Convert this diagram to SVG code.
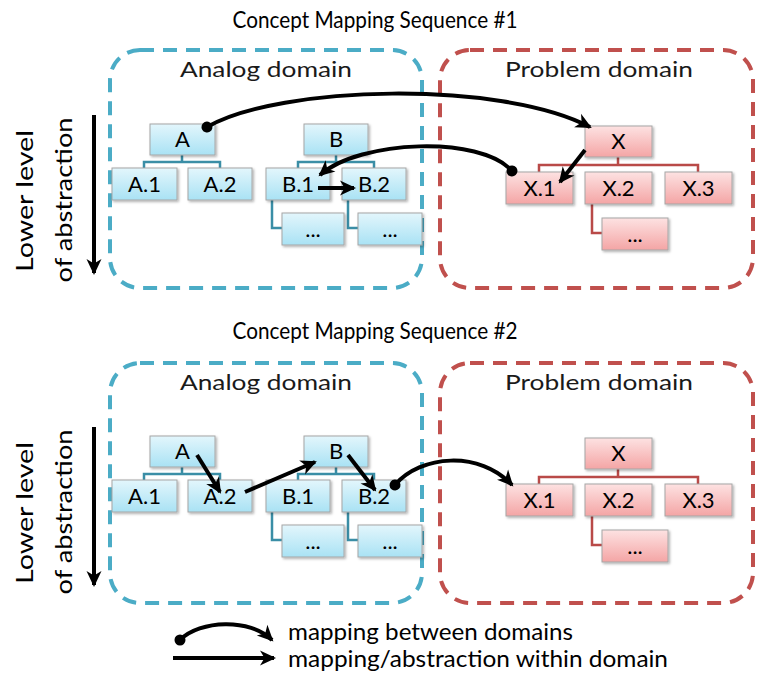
<svg xmlns="http://www.w3.org/2000/svg" width="757" height="683" viewBox="0 0 757 683">
  <style>
    text { font-family: Lato, "Open Sans", "Liberation Sans", sans-serif; fill: #000; }
    .title { font-size: 24px; text-anchor: middle; }
    .dlabel { font-size: 22px; text-anchor: middle; fill: #1a1a1a; }
    .nlabel { font-size: 22px; text-anchor: middle; }
    .side { font-size: 24px; text-anchor: middle; }
    .legend { font-size: 24px; }
    .dom-a { fill: none; stroke: #4bacc6; stroke-width: 4; stroke-dasharray: 14 9; }
    .dom-p { fill: none; stroke: #c0504d; stroke-width: 4; stroke-dasharray: 14 9; }
    .na { fill: url(#gBlue); stroke: #a6a6a6; stroke-width: 1; filter: url(#shadow); }
    .np { fill: url(#gRed); stroke: #a6a6a6; stroke-width: 1; filter: url(#shadow); }
    .ta { fill: none; stroke: #3a8ea6; stroke-width: 2.5; }
    .tp { fill: none; stroke: #b94a48; stroke-width: 2.5; }
    .between { fill: none; stroke: #000; stroke-width: 4; marker-start: url(#dot); marker-end: url(#head); }
    .within { fill: none; stroke: #000; stroke-width: 4; marker-end: url(#head); }
  </style>
  <defs>
    <linearGradient id="gBlue" x1="0" y1="0" x2="0" y2="1">
      <stop offset="0" stop-color="#e3f6fc"/>
      <stop offset="1" stop-color="#a9e2f4"/>
    </linearGradient>
    <linearGradient id="gRed" x1="0" y1="0" x2="0" y2="1">
      <stop offset="0" stop-color="#fde2e2"/>
      <stop offset="1" stop-color="#f4a5a5"/>
    </linearGradient>
    <filter id="shadow" x="-10%" y="-10%" width="130%" height="140%">
      <feDropShadow dx="1.5" dy="1.5" stdDeviation="1" flood-color="#000" flood-opacity="0.3"/>
    </filter>
    <marker id="head" markerUnits="userSpaceOnUse" markerWidth="18" markerHeight="18" viewBox="0 0 18 18" refX="15" refY="9" orient="auto">
      <path d="M1,1.5 L17,9 L1,16.5 L5.5,9 Z" fill="#000"/>
    </marker>
    <marker id="dot" markerUnits="userSpaceOnUse" markerWidth="12" markerHeight="12" viewBox="0 0 12 12" refX="6" refY="6" orient="auto">
      <circle cx="6" cy="6" r="5.5" fill="#000"/>
    </marker>
  </defs>

  <!-- Titles -->
  <text class="title" x="375" y="28" textLength="285" lengthAdjust="spacingAndGlyphs">Concept Mapping Sequence #1</text>
  <text class="title" x="375" y="339" textLength="285" lengthAdjust="spacingAndGlyphs">Concept Mapping Sequence #2</text>

  <!-- Abstraction axis, sequence 1 and 2 -->
  <g id="axis1">
    <text class="side" transform="translate(33,201) rotate(-90)" textLength="142" lengthAdjust="spacingAndGlyphs">Lower level</text>
    <text class="side" transform="translate(72,200) rotate(-90)" textLength="165" lengthAdjust="spacingAndGlyphs">of abstraction</text>
    <path class="within" d="M94,115 L94,273"/>
  </g>
  <g id="axis2">
    <text class="side" transform="translate(33,513) rotate(-90)" textLength="142" lengthAdjust="spacingAndGlyphs">Lower level</text>
    <text class="side" transform="translate(72,512) rotate(-90)" textLength="165" lengthAdjust="spacingAndGlyphs">of abstraction</text>
    <path class="within" d="M94,427 L94,585"/>
  </g>

  <!-- ===== Sequence 1 ===== -->
  <g id="analog1">
    <rect class="dom-a" x="110" y="50" width="312" height="238" rx="30"/>
    <text class="dlabel" x="266" y="77" textLength="172" lengthAdjust="spacingAndGlyphs">Analog domain</text>
  </g>
  <g id="problem1">
    <rect class="dom-p" x="440" y="50" width="313" height="238" rx="30"/>
    <text class="dlabel" x="599" y="77" textLength="188" lengthAdjust="spacingAndGlyphs">Problem domain</text>
  </g>

  <g id="tree1">
    <path class="ta" d="M182,155 V162 M144,168 V162 H220 V168"/>
    <path class="ta" d="M336,155 V162 M298,168 V162 H374 V168"/>
    <path class="ta" d="M272,200 V228 H282 M348,200 V228 H358"/>
    <path class="tp" d="M618,157 V165 M539,172 V165 H698 V172"/>
    <path class="tp" d="M592,204 V233 H602"/>
  </g>

  <g id="s1-A"><rect class="na" x="150" y="124" width="65" height="31"/><text class="nlabel" x="182.5" y="147">A</text></g>
  <g id="s1-A1"><rect class="na" x="112" y="168" width="65" height="32"/><text class="nlabel" x="144.5" y="192">A.1</text></g>
  <g id="s1-A2"><rect class="na" x="188" y="168" width="64" height="32"/><text class="nlabel" x="220" y="192">A.2</text></g>
  <g id="s1-B"><rect class="na" x="304" y="124" width="64" height="31"/><text class="nlabel" x="336" y="147">B</text></g>
  <g id="s1-B1"><rect class="na" x="266" y="168" width="64" height="32"/><text class="nlabel" x="298" y="192">B.1</text></g>
  <g id="s1-B2"><rect class="na" x="342" y="168" width="64" height="32"/><text class="nlabel" x="374" y="192">B.2</text></g>
  <g id="s1-B1c"><rect class="na" x="282" y="213" width="62" height="32"/><text class="nlabel" x="313" y="237">...</text></g>
  <g id="s1-B2c"><rect class="na" x="358" y="213" width="64" height="32"/><text class="nlabel" x="390" y="237">...</text></g>
  <g id="s1-X"><rect class="np" x="585" y="126" width="67" height="31"/><text class="nlabel" x="618.5" y="149">X</text></g>
  <g id="s1-X1"><rect class="np" x="506" y="172" width="67" height="32"/><text class="nlabel" x="539.5" y="196">X.1</text></g>
  <g id="s1-X2"><rect class="np" x="585" y="172" width="67" height="32"/><text class="nlabel" x="618.5" y="196">X.2</text></g>
  <g id="s1-X3"><rect class="np" x="665" y="172" width="67" height="32"/><text class="nlabel" x="698.5" y="196">X.3</text></g>
  <g id="s1-X2c"><rect class="np" x="602" y="218" width="66" height="32"/><text class="nlabel" x="635" y="242">...</text></g>

  <!-- ===== Sequence 2 ===== -->
  <g id="analog2">
    <rect class="dom-a" x="110" y="363" width="312" height="240" rx="30"/>
    <text class="dlabel" x="266" y="390" textLength="172" lengthAdjust="spacingAndGlyphs">Analog domain</text>
  </g>
  <g id="problem2">
    <rect class="dom-p" x="440" y="363" width="313" height="240" rx="30"/>
    <text class="dlabel" x="599" y="390" textLength="188" lengthAdjust="spacingAndGlyphs">Problem domain</text>
  </g>

  <g id="tree2">
    <path class="ta" d="M182,467 V474 M144,480 V474 H220 V480"/>
    <path class="ta" d="M336,467 V474 M298,480 V474 H374 V480"/>
    <path class="ta" d="M272,512 V540 H282 M348,512 V540 H358"/>
    <path class="tp" d="M618,469 V477 M539,484 V477 H698 V484"/>
    <path class="tp" d="M592,516 V545 H602"/>
  </g>

  <g id="s2-A"><rect class="na" x="150" y="436" width="65" height="31"/><text class="nlabel" x="182.5" y="459">A</text></g>
  <g id="s2-A1"><rect class="na" x="112" y="480" width="65" height="32"/><text class="nlabel" x="144.5" y="504">A.1</text></g>
  <g id="s2-A2"><rect class="na" x="188" y="480" width="64" height="32"/><text class="nlabel" x="220" y="504">A.2</text></g>
  <g id="s2-B"><rect class="na" x="304" y="436" width="64" height="31"/><text class="nlabel" x="336" y="459">B</text></g>
  <g id="s2-B1"><rect class="na" x="266" y="480" width="64" height="32"/><text class="nlabel" x="298" y="504">B.1</text></g>
  <g id="s2-B2"><rect class="na" x="342" y="480" width="64" height="32"/><text class="nlabel" x="374" y="504">B.2</text></g>
  <g id="s2-B1c"><rect class="na" x="282" y="525" width="62" height="32"/><text class="nlabel" x="313" y="549">...</text></g>
  <g id="s2-B2c"><rect class="na" x="358" y="525" width="64" height="32"/><text class="nlabel" x="390" y="549">...</text></g>
  <g id="s2-X"><rect class="np" x="585" y="438" width="67" height="31"/><text class="nlabel" x="618.5" y="461">X</text></g>
  <g id="s2-X1"><rect class="np" x="506" y="484" width="67" height="32"/><text class="nlabel" x="539.5" y="508">X.1</text></g>
  <g id="s2-X2"><rect class="np" x="585" y="484" width="67" height="32"/><text class="nlabel" x="618.5" y="508">X.2</text></g>
  <g id="s2-X3"><rect class="np" x="665" y="484" width="67" height="32"/><text class="nlabel" x="698.5" y="508">X.3</text></g>
  <g id="s2-X2c"><rect class="np" x="602" y="530" width="66" height="32"/><text class="nlabel" x="635" y="554">...</text></g>

  <!-- Mapping connectors -->
  <g id="connectors">
    <path class="between" d="M207,127 C280,85 500,80 590,127"/>
    <path class="between" d="M512,171 C480,135 360,140 320,175"/>
    <path class="within" d="M585,150 L560,182"/>
    <path class="within" d="M318,188 L354,188"/>
    <path class="within" d="M197,455 L220,492"/>
    <path class="within" d="M245,492 L315,462"/>
    <path class="within" d="M348,455 L375,490"/>
    <path class="between" d="M395,485 C420,455 480,450 512,485"/>
  </g>

  <!-- Legend -->
  <g id="legend">
    <path class="between" d="M180,640 C200,620 250,618 272,640"/>
    <text class="legend" x="288" y="640" textLength="285" lengthAdjust="spacingAndGlyphs">mapping between domains</text>
    <path class="within" d="M173,658 L274,658"/>
    <text class="legend" x="288" y="667" textLength="380" lengthAdjust="spacingAndGlyphs">mapping/abstraction within domain</text>
  </g>
</svg>
